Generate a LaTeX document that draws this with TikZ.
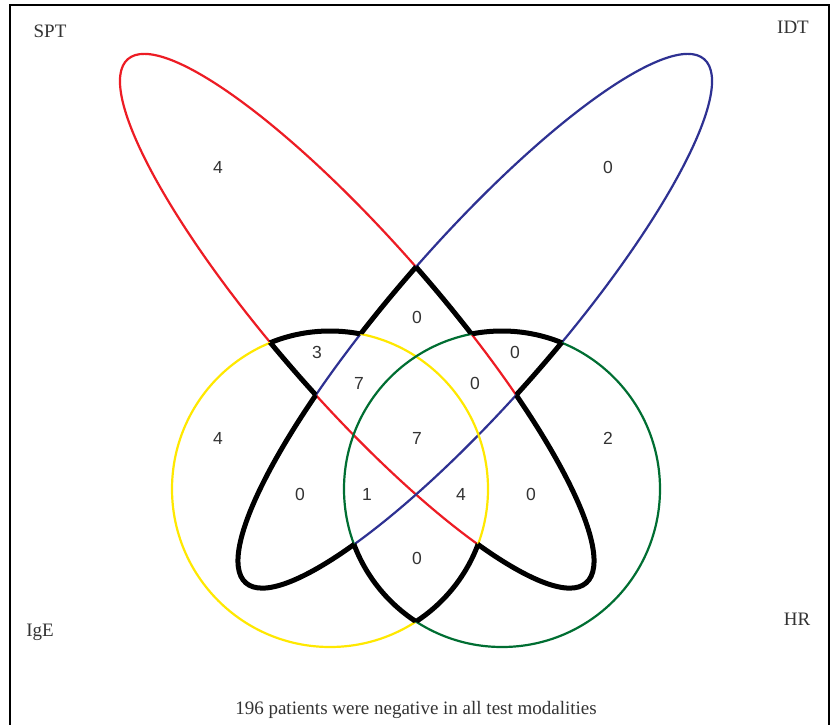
\documentclass[tikz,border=0pt]{standalone}
\usepackage{fontspec}
\setmainfont{Liberation Serif}
\newfontfamily\numfont{Liberation Sans}
\definecolor{sptred}{RGB}{237,28,36}
\definecolor{idtblue}{RGB}{46,49,146}
\definecolor{igeyellow}{RGB}{255,232,0}
\definecolor{hrgreen}{RGB}{0,110,50}
\def\pR{(357,321) circle [x radius=348pt, y radius=80pt, rotate=-48.8]}
\def\pB{(475,321) circle [x radius=348pt, y radius=80pt, rotate=48.8]}
\def\pY{(330,489) circle [radius=158pt]}
\def\pG{(502,489) circle [radius=158pt]}
\newcommand\blackseg[4]{%
  \begin{scope}
    \clip #2;
    \begin{scope}[even odd rule]
      \clip (-50,-50) rectangle (900,800) #3;
      \clip (-50,-50) rectangle (900,800) #4;
      \draw[blk] #1;
    \end{scope}
  \end{scope}}
\begin{document}
\begin{tikzpicture}[x=1pt,y=-1pt,
  thinline/.style={line width=2.2pt},
  blk/.style={line width=5pt, black, line join=round},
  num/.style={font=\numfont\fontsize{17.5}{17.5}\selectfont, text=black!80, inner sep=0pt},
  lbl/.style={font=\fontsize{19}{19}\selectfont, anchor=base, inner sep=0pt, text=black!80}]
\useasboundingbox (0,0) rectangle (838,724);
\fill[white] (0,0) rectangle (838,724);
\draw[line width=2pt] (10,730) -- (10,5) -- (829,5) -- (829,730);
% thin coloured outlines
\draw[thinline, sptred] \pR;
\draw[thinline, idtblue] \pB;
\draw[thinline, igeyellow] \pY;
\draw[thinline, hrgreen] \pG;
% thick black boundary of the region covered by two or more sets
\blackseg{\pR}{\pB}{\pY}{\pG}
\blackseg{\pR}{\pY}{\pB}{\pG}
\blackseg{\pR}{\pG}{\pB}{\pY}
\blackseg{\pB}{\pR}{\pY}{\pG}
\blackseg{\pB}{\pY}{\pR}{\pG}
\blackseg{\pB}{\pG}{\pR}{\pY}
\blackseg{\pY}{\pR}{\pB}{\pG}
\blackseg{\pY}{\pB}{\pR}{\pG}
\blackseg{\pY}{\pG}{\pR}{\pB}
\blackseg{\pG}{\pR}{\pB}{\pY}
\blackseg{\pG}{\pB}{\pR}{\pY}
\blackseg{\pG}{\pY}{\pR}{\pB}
% set labels
\node[lbl] (spt) at (50,37) {SPT};
\node[lbl] (idt) at (793,33) {IDT};
\node[lbl] (ige) at (40,636) {IgE};
\node[lbl] (hr) at (797,625) {HR};
\node[lbl] (note) at (416,714) {196 patients were negative in all test modalities};
% counts
\node[num] (c1) at (218,167) {4};
\node[num] (c2) at (608,167) {0};
\node[num] (c3) at (417,317) {0};
\node[num] (c4) at (317,352) {3};
\node[num] (c5) at (515,352) {0};
\node[num] (c6) at (359,383) {7};
\node[num] (c7) at (475,383) {0};
\node[num] (c8) at (218,438) {4};
\node[num] (c9) at (417,438) {7};
\node[num] (c10) at (608,438) {2};
\node[num] (c11) at (300,494) {0};
\node[num] (c12) at (367,494) {1};
\node[num] (c13) at (461,494) {4};
\node[num] (c14) at (531,494) {0};
\node[num] (c15) at (417,558) {0};
\end{tikzpicture}
\end{document}
